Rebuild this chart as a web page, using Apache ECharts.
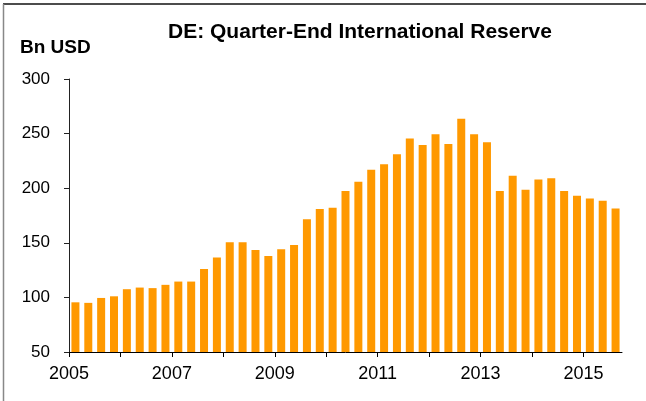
<!DOCTYPE html>
<html>
<head>
<meta charset="utf-8">
<script src="https://cdn.jsdelivr.net/npm/echarts@6/dist/echarts.min.js"></script>
<style>
  html, body { margin: 0; padding: 0; background: #fff; }
  #chart { width: 646px; height: 401px; }
</style>
</head>
<body>
<div id="chart"></div>
<script>
// quarters 2005Q1 .. 2015Q3
var quarters = [
  '2005Q1','2005Q2','2005Q3','2005Q4',
  '2006Q1','2006Q2','2006Q3','2006Q4',
  '2007Q1','2007Q2','2007Q3','2007Q4',
  '2008Q1','2008Q2','2008Q3','2008Q4',
  '2009Q1','2009Q2','2009Q3','2009Q4',
  '2010Q1','2010Q2','2010Q3','2010Q4',
  '2011Q1','2011Q2','2011Q3','2011Q4',
  '2012Q1','2012Q2','2012Q3','2012Q4',
  '2013Q1','2013Q2','2013Q3','2013Q4',
  '2014Q1','2014Q2','2014Q3','2014Q4',
  '2015Q1','2015Q2','2015Q3'
];
// international reserve, Bn USD
var reserve = [
  95.5, 95, 99.5, 101,
  107.5, 109, 108.5, 111.5,
  114.5, 114.5, 126, 136.5,
  150.5, 150.5, 143.5, 138,
  144, 148, 171.5, 181,
  182, 197.5, 206, 217,
  222, 231, 245.5, 239.5,
  249.5, 240.5, 263.5, 249.5,
  242, 197.5, 211.5, 198.5,
  208, 209, 197.5, 193,
  190.5, 188.5, 181.5
];
var yearTicks = [2005, 2006, 2007, 2008, 2009, 2010, 2011, 2012, 2013, 2014, 2015];
var yearLabels = [2005, 2007, 2009, 2011, 2013, 2015];

// place each quarter bar in the middle of its quarter on the year axis
var barData = quarters.map(function (q, i) {
  var yr = parseInt(q.slice(0, 4), 10);
  var qn = parseInt(q.slice(5), 10);
  return [yr + (qn - 0.5) / 4, reserve[i]];
});

var chart = echarts.init(document.getElementById('chart'));
var font = '"Liberation Sans", Arial, sans-serif';

var option = {
  animation: false,
  backgroundColor: '#fff',
  title: {
    text: 'DE: Quarter-End International Reserve',
    left: 355,
    top: 17,
    textAlign: 'center',
    textStyle: { fontFamily: font, fontWeight: 'bold', fontSize: 21, color: '#000' }
  },
  graphic: [
    { type: 'line', shape: { x1: 3, y1: 4, x2: 646, y2: 4 }, style: { stroke: '#111', lineWidth: 1.5 } },
    { type: 'line', shape: { x1: 3.5, y1: 4, x2: 3.5, y2: 401 }, style: { stroke: '#888', lineWidth: 1.5 } },
    {
      type: 'text', left: 20, top: 38,
      style: { text: 'Bn USD', fontFamily: font, fontWeight: 'bold', fontSize: 19, fill: '#000' }
    }
  ],
  grid: { left: 69, right: 24, top: 79, bottom: 49 },
  xAxis: {
    type: 'value',
    min: 2005,
    max: 2015.75,
    interval: 1,
    splitLine: { show: false },
    axisLine: { show: true, lineStyle: { color: '#000', width: 1 } },
    axisTick: { show: true, length: 5, customValues: yearTicks, lineStyle: { color: '#000' } },
    axisLabel: {
      customValues: yearLabels,
      margin: 13,
      fontFamily: font,
      fontSize: 18,
      color: '#000',
      formatter: function (v) { return String(v); }
    }
  },
  yAxis: {
    type: 'value',
    min: 50,
    max: 300,
    interval: 50,
    splitLine: { show: false },
    axisLine: { show: true, lineStyle: { color: '#222', width: 1 } },
    axisTick: { show: true, length: 5, lineStyle: { color: '#222' } },
    axisLabel: { margin: 19, fontFamily: font, fontSize: 17, color: '#000' }
  },
  series: [{
    type: 'bar',
    data: barData,
    barWidth: 8,
    itemStyle: { color: '#FF9900' }
  }]
};

chart.setOption(option);
</script>
</body>
</html>
